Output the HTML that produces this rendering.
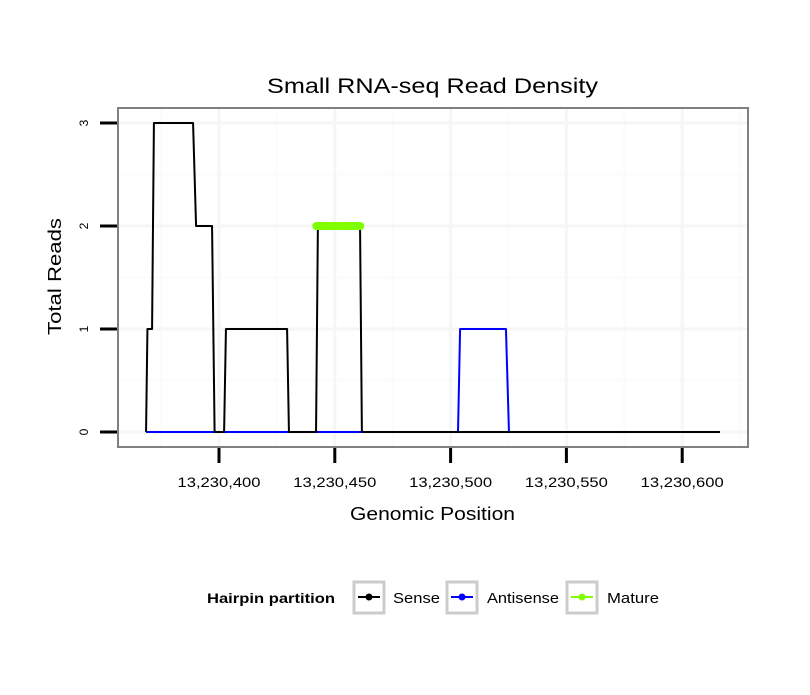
<!DOCTYPE html>
<html><head><meta charset="utf-8"><style>
body{margin:0;background:#fff;font-family:"Liberation Sans",sans-serif}
svg text{font-family:"Liberation Sans",sans-serif}
</style></head><body>
<svg id="c" width="810" height="690" xmlns="http://www.w3.org/2000/svg">
<rect width="810" height="690" fill="#fff"/>
<text x="267" y="93" font-size="21" textLength="331" lengthAdjust="spacingAndGlyphs">Small RNA-seq Read Density</text>
<g id="plot"></g>
<text x="350" y="520" font-size="18" textLength="165" lengthAdjust="spacingAndGlyphs">Genomic Position</text>
<text transform="translate(61,335) rotate(-90)" font-size="18" textLength="117" lengthAdjust="spacingAndGlyphs">Total Reads</text>
<g>
<text x="207" y="603" font-size="14" font-weight="bold" textLength="128" lengthAdjust="spacingAndGlyphs">Hairpin partition</text>
<g>
<rect x="354" y="582" width="30" height="31" fill="#fff" stroke="#ccc" stroke-width="3"/>
<line x1="358" y1="597" x2="380" y2="597" stroke="#000" stroke-width="2"/><circle cx="369" cy="597" r="3.5" fill="#000"/>
<text x="393" y="603" font-size="15" textLength="47" lengthAdjust="spacingAndGlyphs">Sense</text></g>
<g>
<rect x="447" y="582" width="30" height="31" fill="#fff" stroke="#ccc" stroke-width="3"/>
<line x1="451" y1="597" x2="473" y2="597" stroke="#00f" stroke-width="2"/><circle cx="462" cy="597" r="3.5" fill="#00f"/>
<text x="487" y="603" font-size="15" textLength="72" lengthAdjust="spacingAndGlyphs">Antisense</text></g>
<g>
<rect x="567" y="582" width="30" height="31" fill="#fff" stroke="#ccc" stroke-width="3"/>
<line x1="571" y1="597" x2="593" y2="597" stroke="#7fff00" stroke-width="2"/><circle cx="582" cy="597" r="3.5" fill="#7fff00"/>
<text x="607" y="603" font-size="15" textLength="52" lengthAdjust="spacingAndGlyphs">Mature</text></g>
</g>
</svg>
<script>
const xTicks=[13230400,13230450,13230500,13230550,13230600];
const xTickLabels=["13,230,400","13,230,450","13,230,500","13,230,550","13,230,600"];
const yTicks=[0,1,2,3];
const senseX=[13230368.5,13230369.1,13230371.1,13230371.9,13230388.8,13230390.1,13230397,13230398.1,13230402.2,13230403,13230429.4,13230430.2,13230441.9,13230442.7,13230460.9,13230461.7,13230616.3];
const senseY=[0,1,1,3,3,2,2,0,0,1,1,0,0,2,2,0,0];
const antiX=[13230368.5,13230503.2,13230504.1,13230523.9,13230525.2,13230616.3];
const antiY=[0,0,1,1,0,0];
const matureX=[13230442,13230461];
const matureY=[2,2];
const NS="http://www.w3.org/2000/svg";
const X=v=>219+(v-13230400)*2.316;
const Y=v=>432-v*103;
const g=document.getElementById('plot');
function mk(t,a,p){const e=document.createElementNS(NS,t);for(const k in a)e.setAttribute(k,a[k]);(p||g).appendChild(e);return e;}
for(let i=-1;i<xTicks.length;i++){const v=xTicks[0]+i*50+25;const px=X(v);if(px>118&&px<748){const l=mk('line',{x1:px,x2:px,y1:108,y2:447,stroke:'#fbfbfb','stroke-width':2});

}}
for(const v of [0.5,1.5,2.5]){const l=mk('line',{x1:118,x2:748,y1:Y(v),y2:Y(v),stroke:'#fbfbfb','stroke-width':2});

}
xTicks.forEach(v=>{const l=mk('line',{x1:X(v),x2:X(v),y1:108,y2:447,stroke:'#f6f6f6','stroke-width':3});

});
yTicks.forEach(v=>{const l=mk('line',{x1:118,x2:748,y1:Y(v),y2:Y(v),stroke:'#f6f6f6','stroke-width':3});

});
function line(xs,ys,col,w,name,cap){const d=xs.map((x,i)=>(i?'L':'M')+X(x)+','+Y(ys[i])).join('');const p=mk('path',{d:d,fill:'none',stroke:col,'stroke-width':w,'stroke-linejoin':'round','stroke-linecap':cap||'butt'});

}
line(antiX,antiY,'#0000ff',2,'antisense-line');
line(senseX,senseY,'#000',2,'sense-line');
line(matureX,matureY,'#7fff00',8,'mature-line','round');
const b=mk('rect',{x:118,y:108,width:630,height:339,fill:'none',stroke:'#808080','stroke-width':2});


xTicks.forEach((v,i)=>{const t=mk('line',{x1:X(v),x2:X(v),y1:448,y2:463,stroke:'#000','stroke-width':3});


const tx=mk('text',{x:X(v)-41.5,y:487,'font-size':14,textLength:83,lengthAdjust:'spacingAndGlyphs'});tx.textContent=xTickLabels[i];

});
yTicks.forEach(v=>{const t=mk('line',{x1:100,x2:117,y1:Y(v),y2:Y(v),stroke:'#000','stroke-width':3});


const tx=mk('text',{transform:`translate(88,${Y(v)}) rotate(-90)`,'font-size':12,'text-anchor':'middle'});tx.textContent=String(v);

});
</script>
</body></html>
